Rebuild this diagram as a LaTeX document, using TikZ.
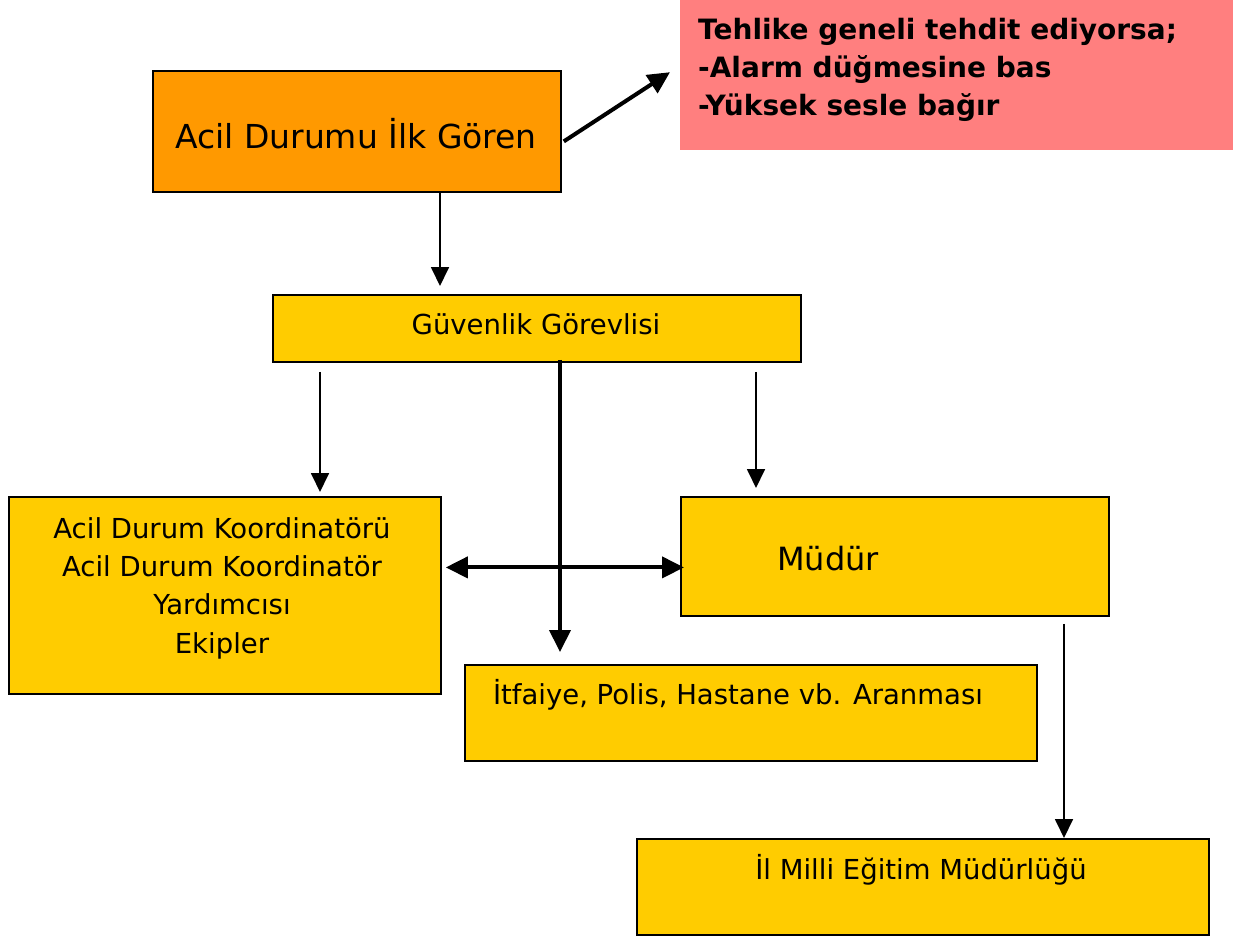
\documentclass[tikz,border=0pt]{standalone}
\usepackage{fontspec}
\setmainfont{DejaVu Sans}
\usetikzlibrary{arrows.meta,calc}
\definecolor{orangebox}{HTML}{FF9900}
\definecolor{yellowbox}{HTML}{FFCC00}
\definecolor{pinkbox}{HTML}{FF7F7F}
\tikzset{
  box/.style={draw=black, line width=1.8pt, inner sep=0pt, anchor=north west},
  txt/.style={inner sep=0pt, align=center, anchor=base, font=\fontsize{27.5}{38.3}\selectfont},
  thinarrow/.style={line width=1.8pt, -{Triangle[length=19pt,width=18pt]}},
  thickarrow/.style={line width=4pt, -{Triangle[length=22pt,width=21pt]}},
}
\begin{document}
\begin{tikzpicture}[x=1pt,y=-1pt]
\useasboundingbox (0,0) rectangle (1251,937);
% boxes
\node[box, fill=orangebox, minimum width=408pt, minimum height=121pt] (ilk) at (152,70) {};
\node[fill=pinkbox, inner sep=0pt, anchor=north west, minimum width=553pt, minimum height=150pt] (uyari) at (680,0) {};
\node[box, fill=yellowbox, minimum width=528pt, minimum height=67pt] (guv) at (272,294) {};
\node[box, fill=yellowbox, minimum width=432pt, minimum height=197pt] (koord) at (8,496) {};
\node[box, fill=yellowbox, minimum width=428pt, minimum height=119pt] (mud) at (680,496) {};
\node[box, fill=yellowbox, minimum width=572pt, minimum height=96pt] (itf) at (464,664) {};
\node[box, fill=yellowbox, minimum width=572pt, minimum height=96pt] (ilmem) at (636,838) {};
% texts
\node[txt, font=\fontsize{33}{38}\selectfont] (tilk) at (356,148) {Acil Durumu İlk Gören};
\node[txt, align=left, anchor=base west, font=\fontsize{28}{37.8}\selectfont\bfseries] (tuyari) at (698,115) {Tehlike geneli tehdit ediyorsa;\\-Alarm düğmesine bas\\-Yüksek sesle bağır};
\node[txt] (tguv) at (536,334) {Güvenlik Görevlisi};
\node[txt] (tkoord) at (222,653) {Acil Durum Koordinatörü\\Acil Durum Koordinatör\\Yardımcısı\\Ekipler};
\node[txt, font=\fontsize{32}{38}\selectfont] (tmud) at (828,570) {Müdür};
\node[txt] (titf) at (738,704) {İtfaiye, Polis, Hastane vb. Aranması};
\node[txt] (tilmem) at (921,879) {İl Milli Eğitim Müdürlüğü};
% connectors
\coordinate (a1) at ($(ilk.east)+(2,10)$);
\coordinate (a2) at ($(uyari.west)+(-10,-3)$);
\draw[thickarrow] (a1) -- (a2);
\draw[thinarrow] (ilk.south -| 440,0) -- ($(guv.north -| 440,0)+(0,-8)$);
\draw[thinarrow] ($(guv.south -| 320,0)+(0,9)$) -- ($(koord.north -| 320,0)+(0,-4)$);
\draw[thinarrow] ($(guv.south -| 756,0)+(0,9)$) -- ($(mud.north -| 756,0)+(0,-8)$);
\draw[thickarrow] ($(guv.south -| 560,0)+(0,-3)$) -- ($(itf.north -| 560,0)+(0,-12)$);
\draw[line width=4pt, {Triangle[length=22pt,width=21pt]}-{Triangle[length=22pt,width=21pt]}] ($(koord.east)+(4,-28)$) -- ($(mud.west)+(4,11)$);
\draw[thinarrow] ($(mud.south -| 1064,0)+(0,7)$) -- (ilmem.north -| 1064,0);
\end{tikzpicture}
\end{document}
